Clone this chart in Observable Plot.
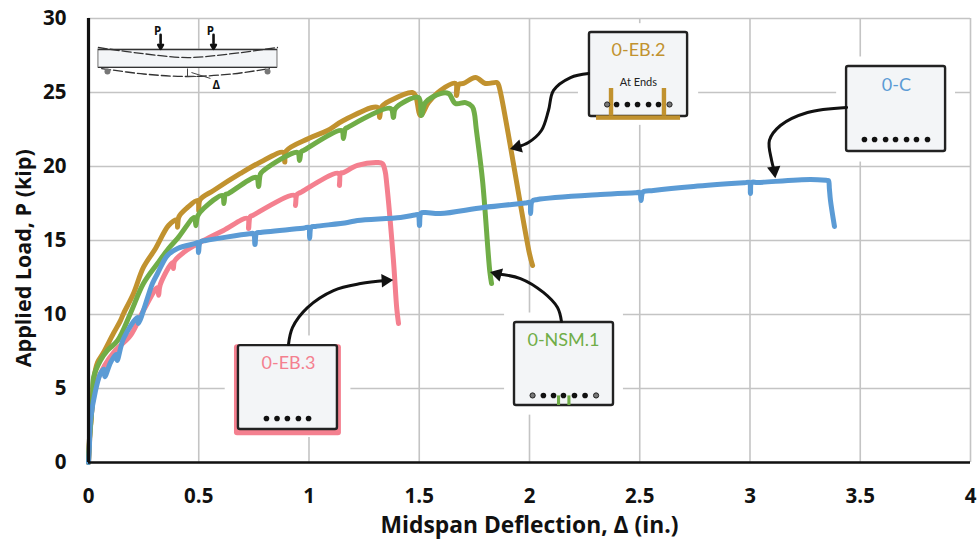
<!DOCTYPE html>
<html><head><meta charset="utf-8">
<style>html,body{margin:0;padding:0;background:#fff}svg{display:block}</style>
<script src="https://cdn.jsdelivr.net/npm/d3@7"></script>
<script src="https://cdn.jsdelivr.net/npm/@observablehq/plot@0.6"></script>
</head><body><script>
const xTicks=[0,0.5,1,1.5,2,2.5,3,3.5,4];
const yTicks=[0,5,10,15,20,25,30];
const C0=[[0,0],[.004,1],[.009,2.84],[.032,4.86],[.054,6.01],[.07,6.3],[.074,5.8],[.1,6.76],[.125,7.3],[.13,6.9],[.159,8.38],[.222,9.8],[.226,9.4],[.29,12.09],[.313,12.77],[.358,13.99],[.404,14.46],[.485,14.8],[.495,14.86],[.499,14.19],[.507,14.9],[.531,15],[.73,15.45],[.748,15.47],[.755,14.73],[.763,15.5],[.78,15.54],[.98,15.85],[.998,15.88],[1.003,15.14],[1.01,15.9],[1.029,15.95],[1.175,16.22],[1.22,16.35],[1.415,16.55],[1.48,16.72],[1.495,16.75],[1.501,16.01],[1.508,16.85],[1.528,16.89],[1.596,16.82],[1.791,17.23],[1.98,17.53],[2,17.57],[2.005,16.82],[2.012,17.65],[2.036,17.77],[2.322,18.11],[2.48,18.22],[2.5,18.24],[2.506,17.7],[2.515,18.28],[2.562,18.38],[2.744,18.65],[2.975,18.9],[2.997,18.92],[3.002,18.18],[3.008,18.92],[3.034,18.92],[3.274,19.12],[3.35,19.06],[3.356,19.05],[3.36,18.5],[3.365,17.7],[3.383,15.95]];
const EB2=[[0,0],[.005,1.5],[.012,3],[.018,4.5],[.023,5.54],[.041,6.76],[.068,7.43],[.113,8.72],[.145,9.59],[.159,10.07],[.204,11.42],[.249,13.18],[.304,14.46],[.363,16.01],[.4,16.4],[.404,15.9],[.41,16.6],[.449,17.23],[.495,17.7],[.5,17],[.506,17.75],[.567,18.38],[.689,19.53],[.794,20.41],[.884,20.95],[.89,20.3],[.897,21.05],[.998,21.89],[1.084,22.43],[1.156,23.11],[1.311,23.99],[1.32,23.31],[1.33,24.05],[1.37,24.46],[1.469,25],[1.483,24.8],[1.506,23.45],[1.542,24.32],[1.596,25.14],[1.664,25.61],[1.669,24.8],[1.68,25.55],[1.701,25.61],[1.755,26.01],[1.8,25.61],[1.85,25.68],[1.857,25.6],[1.87,24.9],[2,14.1],[2.014,13.31]];
const EB3=[[0,0],[.004,1.5],[.012,3],[.022,4.5],[.032,5.2],[.073,6.55],[.122,7.57],[.19,8.58],[.249,10.27],[.313,11.82],[.318,11.3],[.325,12],[.381,13.51],[.385,13.11],[.39,13.6],[.431,14.19],[.522,15],[.612,15.68],[.721,16.49],[.726,15.81],[.733,16.6],[.744,16.69],[.935,18.04],[.939,17.36],[.945,18.1],[.961,18.24],[1.134,19.53],[1.138,18.72],[1.144,19.55],[1.156,19.59],[1.22,20.07],[1.311,20.27],[1.333,20.2],[1.345,19.7],[1.352,18.9],[1.383,13.65],[1.398,10.4],[1.406,9.39]];
const NSM1=[[0,0],[.004,1.5],[.012,3],[.02,4.5],[.023,5.74],[.054,6.89],[.086,7.57],[.132,8.24],[.19,10.07],[.249,12.09],[.313,13.45],[.363,14.46],[.404,15.14],[.48,16.55],[.487,16],[.495,16.65],[.522,17.16],[.608,18.04],[.614,17.5],[.621,18.1],[.635,18.18],[.762,19.26],[.771,18.65],[.78,19.5],[.794,19.73],[.948,20.95],[.957,20.41],[.965,21],[.975,21.08],[1.148,22.43],[1.156,21.89],[1.165,22.55],[1.175,22.64],[1.37,23.92],[1.383,23.31],[1.392,23.92],[1.497,24.66],[1.51,23.45],[1.528,24.32],[1.596,24.93],[1.633,24.93],[1.664,24.26],[1.71,24.32],[1.74,24.05],[1.75,23.6],[1.758,22.6],[1.787,19.05],[1.82,12.9],[1.828,12.09]];
const colors={C:"#5b9bd5",EB2:"#c1922f",EB3:"#f4808f",NSM:"#70ad47"};
const boxes=[[2.272,2.717,23.38,29.05],[3.438,3.887,21.01,26.76],[.68,1.129,2.23,7.9],[1.932,2.381,3.85,9.46]];
const masks=[[2.222,2.767,22.78,29.65],[3.393,3.932,20.3,27.4],[.62,1.19,1.69,8.55],[1.887,2.426,3.2,10.1]];
const pinkFrame=[[.662,1.147,1.8,7.95]];
const plate=[[2.304,2.685,23.12,23.42]];
const strips=[[2.362,2.382,23.4,25.27],[2.602,2.622,23.4,25.27]];
const tabs=[[2.127,2.141,3.85,4.5],[2.174,2.188,3.85,4.5]];
const boxLabels=[["0-EB.2",2.494,27.84,colors.EB2],["0-C",3.664,25.47,colors.C],["0-EB.3",.907,6.69,colors.EB3],["0-NSM.1",2.154,8.24,colors.NSM]];
const bars=[[2.395,24.19],[2.444,24.19],[2.49,24.19],[2.54,24.19],[2.585,24.19],[3.519,21.82],[3.565,21.82],[3.615,21.82],[3.66,21.82],[3.71,21.82],[3.755,21.82],[3.805,21.82],[.807,2.97],[.855,2.97],[.902,2.97],[.952,2.97],[.998,2.97],[2.063,4.53],[2.109,4.53],[2.154,4.53],[2.204,4.53],[2.252,4.53]];
const endBars=[[2.352,24.19],[2.635,24.19],[2.014,4.53],[2.302,4.53]];
const leaders=[
 [[2.268,26.28],[2.186,26.01],[2.109,25.14],[2.086,23.78],[2.054,22.43],[1.995,21.62],[1.945,21.32]],
 [[3.438,23.99],[3.261,23.65],[3.138,22.77],[3.088,21.76],[3.098,20.41],[3.11,19.73]],
 [[.907,7.97],[.925,9.12],[.993,10.47],[1.111,11.62],[1.234,12.09],[1.347,12.3]],
 [[2.145,9.53],[2.127,10.47],[2.063,11.49],[1.959,12.43],[1.855,12.74]]];
const heads=[[1.945,21.32,255],[3.11,19.73,172],[1.347,12.3,87],[1.855,12.74,285]];
const beam=[[.045,.857,26.69,27.9]];
const beamTop=[[.045,28.04],[.25,27.62],[.45,27.36],[.65,27.62],[.857,28.04]];
const beamBottom=[[.06,26.62],[.25,26.25],[.45,26.08],[.65,26.25],[.82,26.62]];
const supports=[[.086,26.42],[.812,26.42]];
const loads=[[.327,28.9,.327,27.95],[.567,28.9,.567,27.95]];
const loadLabels=[["P",.313,29.15],["P",.553,29.15],["Δ",.58,25.47]];
const ticksBeam=[[.449,26.62,.449,26.08],[.449,26.08,.49,26.08],[.467,26.35,.553,25.95]];

const rect=(a,o)=>Plot.rect(a,{x1:d=>d[0],x2:d=>d[1],y1:d=>d[2],y2:d=>d[3],...o});
const curve=(a,c,w)=>Plot.line(a,{x:d=>d[0],y:d=>d[1],stroke:c,strokeWidth:w,curve:"catmull-rom"});
const chart=Plot.plot({
 width:979,height:543,marginLeft:88,marginRight:9,marginTop:18,marginBottom:81,
 style:{fontFamily:"'Open Sans',sans-serif",fontSize:"20.5px",fontWeight:700,color:"#111",background:"#fff",overflow:"visible"},
 x:{domain:[0,4],label:null},y:{domain:[0,30],label:null},
 marks:[
  Plot.gridX(xTicks,{stroke:"#c4c4c4",strokeOpacity:1,strokeWidth:1.6}),
  Plot.gridY(yTicks,{stroke:"#c4c4c4",strokeOpacity:1,strokeWidth:1.6}),
  Plot.axisX({ticks:xTicks,tickSize:0,tickPadding:26,tickFormat:d=>String(d),label:null}),
  Plot.axisY({ticks:yTicks,tickSize:0,tickPadding:22,tickFormat:d=>String(d),label:null}),
  Plot.text(["Midspan Deflection, Δ (in.)"],{x:[2.0],y:[-4.3],fontSize:22.8,fontWeight:700}),
  Plot.text(["Applied Load, P (kip)"],{x:[-.29],y:[13.8],rotate:-90,fontSize:21.5,fontWeight:700}),
  rect(masks,{fill:"#fff"}),
  rect(beam,{fill:"#f3f5f7",stroke:"#888",strokeWidth:1.2}),
  Plot.ruleY([27.9],{x1:.045,x2:.857,stroke:"#333",strokeWidth:1.2}),
  Plot.ruleY([26.69],{x1:.045,x2:.857,stroke:"#333",strokeWidth:1.2}),
  Plot.line(beamTop,{x:d=>d[0],y:d=>d[1],stroke:"#333",strokeWidth:1.3,strokeDasharray:"9 3",curve:"catmull-rom"}),
  Plot.line(beamBottom,{x:d=>d[0],y:d=>d[1],stroke:"#333",strokeWidth:1.3,strokeDasharray:"9 3",curve:"catmull-rom"}),
  Plot.dot(supports,{x:d=>d[0],y:d=>d[1],r:3,fill:"#777"}),
  Plot.arrow(loads,{x1:d=>d[0],y1:d=>d[1],x2:d=>d[2],y2:d=>d[3],stroke:"#111",strokeWidth:2.6,headLength:6}),
  Plot.link(ticksBeam,{x1:d=>d[0],y1:d=>d[1],x2:d=>d[2],y2:d=>d[3],stroke:"#444",strokeWidth:1}),
  Plot.text(loadLabels,{text:d=>d[0],x:d=>d[1],y:d=>d[2],fontSize:11.5,fontWeight:700}),
  curve(EB3,colors.EB3,5),
  curve(EB2,colors.EB2,5),
  curve(NSM1,colors.NSM,5),
  curve(C0,colors.C,5),
  Plot.ruleX([0],{stroke:"#111",strokeWidth:3.2}),
  Plot.ruleY([0],{stroke:"#111",strokeWidth:2.4}),
  rect(pinkFrame,{fill:colors.EB3,rx:3}),
  rect(boxes,{fill:"#f3f5f7",stroke:"#222",strokeWidth:2.4,rx:2}),
  rect(strips,{fill:colors.EB2}),
  rect(plate,{fill:colors.EB2}),
  rect(tabs,{fill:colors.NSM}),
  Plot.dot(bars,{x:d=>d[0],y:d=>d[1],r:2.8,fill:"#111"}),
  Plot.dot(endBars,{x:d=>d[0],y:d=>d[1],r:2.6,fill:"#777",stroke:"#222",strokeWidth:1}),
  Plot.text(boxLabels,{text:d=>d[0],x:d=>d[1],y:d=>d[2],fill:d=>d[3],fontSize:18,fontWeight:400,fontFamily:"Lato"}),
  Plot.text(["At Ends"],{x:[2.494],y:[25.7],fontSize:11,fontWeight:400,fontFamily:"Lato",fill:"#222"}),
  ...leaders.map(l=>Plot.line(l,{x:d=>d[0],y:d=>d[1],stroke:"#111",strokeWidth:3,curve:"catmull-rom"})),
  Plot.dot(heads,{x:d=>d[0],y:d=>d[1],rotate:d=>d[2],symbol:"triangle",r:5,fill:"#111"})
 ]
});
document.body.appendChild(chart);
</script></body></html>
